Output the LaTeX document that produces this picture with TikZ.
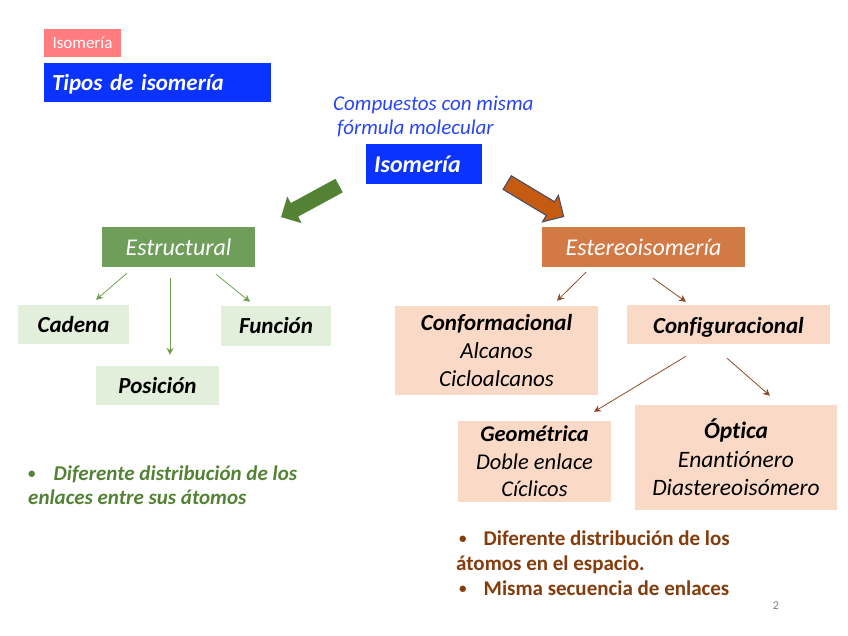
\documentclass[tikz,border=0pt]{standalone}
\usepackage{fontspec}
\setmainfont{Carlito}[Ligatures=NoCommon]
\usetikzlibrary{arrows.meta, calc, shapes.arrows}

\definecolor{titleblue}{HTML}{0A33FF}
\definecolor{tagred}{HTML}{FF7C80}
\definecolor{textblue}{HTML}{2A45F5}
\definecolor{headgreen}{HTML}{6F9D5A}
\definecolor{lightgreen}{HTML}{E2EFDA}
\definecolor{headorange}{HTML}{D27A45}
\definecolor{lightorange}{HTML}{FAD9C6}
\definecolor{darkgreen}{HTML}{548235}
\definecolor{darkorange}{HTML}{C55A11}
\definecolor{outlineblue}{HTML}{3E4C6E}
\definecolor{arrowgreen}{HTML}{6FA04E}
\definecolor{arrowbrown}{HTML}{8E4B28}
\definecolor{textbrown}{HTML}{843C0C}

\newcommand{\smallbullet}{\raisebox{2pt}{\fontsize{15}{15}\selectfont\textbullet}}

\tikzset{
  box/.style={rectangle, inner sep=0pt, align=center},
  bluebox/.style={box, fill=titleblue, text=white, font=\fontsize{24}{28}\selectfont\bfseries\itshape},
  greenhead/.style={box, fill=headgreen, text=white, font=\fontsize{24}{28}\selectfont\itshape},
  greenbox/.style={box, fill=lightgreen, font=\fontsize{23}{28}\selectfont\bfseries\itshape},
  orangehead/.style={box, fill=headorange, text=white, font=\fontsize{24}{28}\selectfont\itshape},
  orangebox/.style={box, fill=lightorange, font=\fontsize{23}{28}\selectfont\itshape},
  garrow/.style={draw=arrowgreen, line width=0.8pt, -{Stealth[length=7pt,width=7pt]}},
  barrow/.style={draw=arrowbrown, line width=0.8pt, -{Stealth[length=7pt,width=7pt]}},
  bigarrow/.style={single arrow, inner sep=7.5pt, minimum width=30pt,
    single arrow head extend=7.5pt, single arrow head indent=0pt, minimum height=66pt}
}

\begin{document}
\begin{tikzpicture}[x=1pt,y=-1pt]
\useasboundingbox (0,0) rectangle (848,636);

% cabecera
\node[box, fill=tagred, text=white, minimum width=77pt, minimum height=28pt,
  font=\fontsize{17}{20}\selectfont] (tag) at (82.5,43) {Isomería};
\node[box, fill=titleblue, text=white, minimum width=227pt, minimum height=39pt,
  text width=211pt, align=left, text height=22pt, text depth=5pt,
  font=\fontsize{23}{27}\selectfont\bfseries\itshape] (title) at (157.5,82.5) {Tipos de isomería};

% isomeria
\node[anchor=north west, inner sep=0pt, align=left, text=textblue,
  font=\fontsize{21}{24}\selectfont\itshape] (def) at (333,96) {Compuestos con misma\\\hspace{4pt}fórmula molecular};
\node[bluebox, minimum width=116pt, minimum height=40pt] (iso) at (424,164) {Isomería\hspace{13pt}};

\node[bigarrow, fill=darkgreen, rotate=208.5] (toestr) at (313.5,199.5) {};
\node[bigarrow, fill=darkorange, draw=outlineblue, line width=1pt, rotate=-31] (toester) at (532,197.5) {};

% estructural
\node[greenhead, minimum width=153pt, minimum height=40pt] (estr) at (178.5,247) {Estructural};
\node[greenbox, minimum width=111pt, minimum height=39pt] (cadena) at (73.5,324.5) {Cadena};
\node[greenbox, minimum width=123pt, minimum height=39pt] (posicion) at (157.5,385.5) {Posición};
\node[greenbox, minimum width=110pt, minimum height=40pt] (funcion) at (276,326) {Función};

\draw[garrow] ($(estr.south)+(-51.5,6)$) -- ($(cadena.north)+(22.5,-5)$);
\draw[garrow] ($(estr.south)+(-8.5,11)$) -- ($(posicion.north)+(12.5,-11)$);
\draw[garrow] ($(estr.south)+(37.5,7)$) -- ($(funcion.north)+(-26,-4)$);

% estereoisomeria
\node[orangehead, minimum width=203pt, minimum height=40pt] (ester) at (643.5,247) {Estereoisomería};
\node[orangebox, minimum width=203pt, minimum height=89pt] (conform) at (496.5,350.5) {\textbf{Conformacional}\\Alcanos\\Cicloalcanos};
\node[orangebox, minimum width=203pt, minimum height=39pt, text height=22pt, text depth=5pt,
  font=\fontsize{23}{28}\selectfont\bfseries\itshape] (config) at (728.5,324.5) {Configuracional};
\node[orangebox, minimum width=153pt, minimum height=81pt, font=\fontsize{22.5}{27.5}\selectfont\itshape] (geom) at (534.5,461.5) {\textbf{Geométrica}\\Doble enlace\\Cíclicos};
\node[orangebox, minimum width=202pt, minimum height=105pt, font=\fontsize{23.5}{28.5}\selectfont\itshape] (optica) at (736,457.5) {\textbf{Óptica}\\Enantiónero\\Diastereoisómero};

\draw[barrow] ($(ester.south)+(-57.5,5)$) -- ($(conform.north)+(60.5,-5)$);
\draw[barrow] ($(ester.south)+(9.5,11)$) -- ($(config.north)+(-42.5,-3)$);
\draw[barrow] ($(config.south)+(-42.5,12)$) -- ($(geom.north)+(59.5,-9)$);
\draw[barrow] ($(config.south)+(-1.5,14)$) -- ($(optica.north)+(34,-9)$);

% notas
\node[anchor=north west, inner sep=0pt, align=left, text=darkgreen,
  font=\fontsize{21}{24}\selectfont\bfseries\itshape] (notaestr) at (28,466)
  {\textup{\smallbullet}\hspace{18pt}Diferente distribución de los\\enlaces entre sus átomos};
\node[anchor=north west, inner sep=0pt, align=left, text=textbrown,
  font=\fontsize{21}{25}\selectfont\bfseries] (notaester) at (456,531)
  {\hspace{3pt}\smallbullet\hspace{17pt}Diferente distribución de los\\átomos en el espacio.\\\hspace{3pt}\smallbullet\hspace{17pt}Misma secuencia de enlaces};
\node[text=gray, font=\fontsize{12}{14}\selectfont] (pag) at (776,606) {2};
\end{tikzpicture}
\end{document}
